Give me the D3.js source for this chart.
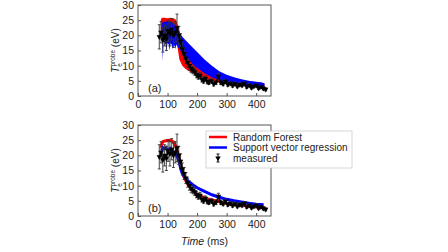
<!DOCTYPE html>
<html><head><meta charset="utf-8">
<script src="https://cdn.jsdelivr.net/npm/d3@7"></script>
<style>html,body{margin:0;padding:0;background:#fff;}svg{display:block;font-family:"Liberation Sans",Arial,sans-serif;}</style>
</head><body>
<svg id="c" width="448" height="252"></svg>
<script>
// ---- data ----
const xTicks = [0, 100, 200, 300, 400];
const yTicks = [0, 5, 10, 15, 20, 25, 30];
const seriesNames = ["Random Forest", "Support vector regression", "measured"];

// measured electron temperature (probe)
const measT = [72, 78, 84, 90, 96, 102, 108, 114, 120, 126, 132, 138, 144, 150, 156, 162, 168, 174, 180, 186, 192, 198, 204, 210, 216, 222, 228, 234, 240, 248, 256, 264, 272, 280, 288, 296, 304, 312, 320, 328, 336, 344, 352, 360, 368, 376, 384, 392, 400, 408, 416, 424, 432];
const measV = [19.5, 21, 18.5, 20, 19, 21.5, 20.5, 22, 20, 21, 22.5, 20, 18, 15.5, 14, 12.5, 11, 10, 9, 8.5, 8, 7, 6.5, 6.8, 5.5, 5, 5.8, 4.8, 4.5, 5, 4, 4.5, 6.5, 4.5, 4, 4.8, 3.8, 4.2, 3.5, 4, 3.2, 3.8, 3.5, 4.2, 3, 3.5, 2.8, 3.2, 3.5, 2.6, 3, 2.5, 2.2];
const measE = [4, 3.5, 4, 3.5, 4, 3.5, 4, 3.5, 4, 3.5, 4.5, 3, 2.5, 2, 2, 1.8, 1.5, 1.5, 1.3, 1.2, 1.2, 1, 1, 1, 0.9, 0.8, 0.8, 0.8, 0.7, 0.8, 0.7, 0.7, 1, 0.7, 0.6, 0.7, 0.6, 0.6, 0.6, 0.6, 0.5, 0.6, 0.5, 0.6, 0.5, 0.5, 0.5, 0.5, 0.5, 0.5, 0.5, 0.5, 0.5];

// panel (a): ensemble envelopes
const rfT  = [77, 80, 90, 100, 110, 120, 128, 134, 140, 150, 160, 170, 185, 200, 225, 250, 275, 300, 325, 350, 375, 400, 420, 428];
const rfUp = [25, 25.8, 25.8, 25.6, 25.8, 25.6, 25.2, 23.5, 21.5, 18.5, 16.5, 15, 13.5, 12.5, 10.5, 9, 7.5, 6.5, 5.8, 5.2, 4.8, 4.6, 4.4, 4];
const rfLo = [19, 20, 20, 20, 20, 20, 19.5, 16, 12, 10, 9, 8.3, 7.5, 6.8, 5.8, 5, 4.4, 4, 3.6, 3.3, 3, 2.8, 2.6, 2.6];

const svT  = [80, 82, 84, 86, 90, 94, 96, 100, 104, 106, 110, 114, 116, 120, 124, 126, 130, 136, 140, 150, 160, 170, 185, 200, 225, 250, 275, 300, 325, 350, 375, 400, 415, 428];
const svUp = [22, 24, 24.5, 24.5, 24.5, 24.5, 24.5, 24.8, 24.5, 24.5, 24.5, 24.5, 24.2, 24, 23.5, 23.5, 23, 22, 21, 19.5, 18.5, 17.5, 16, 14.5, 12, 10, 8.2, 7, 6.2, 5.5, 5, 4.7, 4.5, 4.2];
const svLo = [19, 18, 11.5, 18, 17.5, 17, 14.5, 17.5, 17, 15, 17.5, 17, 15.5, 17, 16.5, 15.5, 17, 16, 15.5, 14, 13, 12, 10.5, 9.2, 7.5, 6.2, 5.2, 4.5, 4, 3.7, 3.4, 3.2, 3, 3];

// panel (b): single predictions
const rfbT = [78, 82, 86, 95, 105, 115, 122, 128, 134, 140, 145, 150, 155, 160, 165, 175, 185, 200, 220, 240, 265, 290, 320, 350, 380, 410, 430];
const rfbV = [22.5, 24.2, 24.6, 24.8, 25, 24.8, 24.2, 23, 21, 19, 17, 15, 13, 12, 11, 9.5, 8.5, 7.2, 6.2, 5.5, 5, 4.3, 3.8, 3.5, 3.1, 2.9, 2.7];
const svbT = [80, 85, 90, 95, 100, 105, 110, 115, 120, 125, 130, 135, 140, 145, 150, 160, 170, 185, 200, 225, 250, 275, 300, 325, 350, 375, 400, 425];
const svbV = [21.5, 22.5, 22.2, 22.5, 21.5, 22, 22.3, 21.5, 21, 21, 20, 19, 17.5, 15.5, 14, 12.5, 11.5, 10.3, 9.3, 8.1, 7, 6.2, 5.5, 5, 4.6, 4.2, 3.9, 3.7];

// ---- layout ----
const svg = d3.select("#c");
const L = 138, R = 271;
const panels = [{top: 5, bot: 96, label: "(a)"}, {top: 125, bot: 216, label: "(b)"}];
const x = d3.scaleLinear().domain([0, 450]).range([L, R]);
const RED = "#ff0000", BLUE = "#0000ff", FRAME = "#555";

function axisLabel(g, cy) {
  const t = g.append("text")
    .attr("transform", `translate(${L - 19},${cy}) rotate(-90)`)
    .attr("text-anchor", "middle").attr("font-size", 10).attr("fill", "#222");
  t.append("tspan").attr("font-style", "italic").text("T");
  t.append("tspan").attr("font-size", 6.5).attr("dy", 2.5).text("e");
  t.append("tspan").attr("font-size", 6.5).attr("dy", -7).attr("dx", -3.5).text("probe");
  t.append("tspan").attr("dy", 4.5).text(" (eV)");
}

panels.forEach((p, i) => {
  const y = d3.scaleLinear().domain([0, 30]).range([p.bot, p.top]);
  const g = svg.append("g");
  const clip = "clip" + i;
  g.append("clipPath").attr("id", clip).append("rect")
    .attr("x", L).attr("y", p.top).attr("width", R - L).attr("height", p.bot - p.top);
  const plot = g.append("g").attr("clip-path", `url(#${clip})`);

  if (i === 0) {
    const area = (T, lo, up) => d3.area().x((d, k) => x(T[k])).y0((d, k) => y(lo[k])).y1((d, k) => y(up[k]))(T);
    plot.append("path").attr("d", area(rfT, rfLo, rfUp)).attr("fill", RED);
    plot.append("path").attr("d", area(svT, svLo, svUp)).attr("fill", BLUE);
  } else {
    const line = (T, V) => d3.line().x((d, k) => x(T[k])).y((d, k) => y(V[k]))(T);
    plot.append("path").attr("d", line(rfbT, rfbV)).attr("fill", "none").attr("stroke", RED).attr("stroke-width", 3);
    plot.append("path").attr("d", line(svbT, svbV)).attr("fill", "none").attr("stroke", BLUE).attr("stroke-width", 3);
  }

  // measured
  const eb = plot.append("g").attr("stroke", "#333").attr("stroke-width", 0.9);
  measT.forEach((t, k) => {
    const cx = x(t), y1 = y(measV[k] + measE[k]), y2 = y(measV[k] - measE[k]);
    eb.append("line").attr("x1", cx).attr("x2", cx).attr("y1", y1).attr("y2", y2);
    eb.append("line").attr("x1", cx - 1.5).attr("x2", cx + 1.5).attr("y1", y1).attr("y2", y1);
    eb.append("line").attr("x1", cx - 1.5).attr("x2", cx + 1.5).attr("y1", y2).attr("y2", y2);
  });
  plot.append("path").attr("d", d3.line().x((d, k) => x(measT[k])).y((d, k) => y(measV[k]))(measT))
    .attr("fill", "none").attr("stroke", "#000").attr("stroke-width", 1.3);
  const tri = d3.symbol().type(d3.symbolTriangle).size(13);
  plot.append("g").selectAll("path").data(measT).join("path")
    .attr("d", tri).attr("fill", "#000")
    .attr("transform", (d, k) => `translate(${x(d)},${y(measV[k])}) rotate(180)`);

  // frame
  g.append("rect").attr("x", L).attr("y", p.top).attr("width", R - L).attr("height", p.bot - p.top)
    .attr("fill", "none").attr("stroke", FRAME).attr("stroke-width", 1);

  // axes
  const ax = g.append("g").attr("transform", `translate(0,${p.bot})`)
    .call(d3.axisBottom(x).tickValues(xTicks).tickSize(-3).tickPadding(5));
  const ay = g.append("g").attr("transform", `translate(${L},0)`)
    .call(d3.axisLeft(y).tickValues(yTicks).tickSize(-3).tickPadding(4));
  [ax, ay].forEach(a => {
    a.select(".domain").remove();
    a.selectAll("line").attr("stroke", FRAME);
    a.selectAll("text").attr("font-size", 10.5).attr("fill", "#222").attr("font-family", '"Liberation Sans",Arial,sans-serif');
  });

  g.append("text").attr("x", L + 10).attr("y", p.bot - 4).attr("font-size", 11).attr("fill", "#222").text(p.label);
  axisLabel(g, (p.top + p.bot) / 2);
});

// legend (panel b)
const lg = svg.append("g").attr("transform", "translate(206,131)");
lg.append("rect").attr("width", 146).attr("height", 37).attr("fill", "#fff").attr("stroke", "#ccc").attr("stroke-width", 0.8);
[RED, BLUE].forEach((c, k) => {
  lg.append("line").attr("x1", 3).attr("x2", 21).attr("y1", 6 + k * 10.5).attr("y2", 6 + k * 10.5).attr("stroke", c).attr("stroke-width", 2.5);
});
const mx = 12, my = 27;
lg.append("line").attr("x1", mx).attr("x2", mx).attr("y1", my - 4).attr("y2", my + 4).attr("stroke", "#000").attr("stroke-width", 0.9);
lg.append("line").attr("x1", mx - 1.5).attr("x2", mx + 1.5).attr("y1", my - 4).attr("y2", my - 4).attr("stroke", "#000").attr("stroke-width", 0.9);
lg.append("line").attr("x1", mx - 1.5).attr("x2", mx + 1.5).attr("y1", my + 4).attr("y2", my + 4).attr("stroke", "#000").attr("stroke-width", 0.9);
lg.append("path").attr("d", d3.symbol().type(d3.symbolTriangle).size(13)).attr("transform", `translate(${mx},${my}) rotate(180)`).attr("fill", "#000");
seriesNames.forEach((n, k) => {
  lg.append("text").attr("x", 27).attr("y", 9.5 + k * 10.5).attr("font-size", 10).attr("fill", "#222").text(n);
});

// x title
const xt = svg.append("text").attr("x", x(225)).attr("y", 245).attr("text-anchor", "middle").attr("font-size", 10.5).attr("fill", "#222");
xt.append("tspan").attr("font-style", "italic").text("Time");
xt.append("tspan").text(" (ms)");
</script>
</body></html>
